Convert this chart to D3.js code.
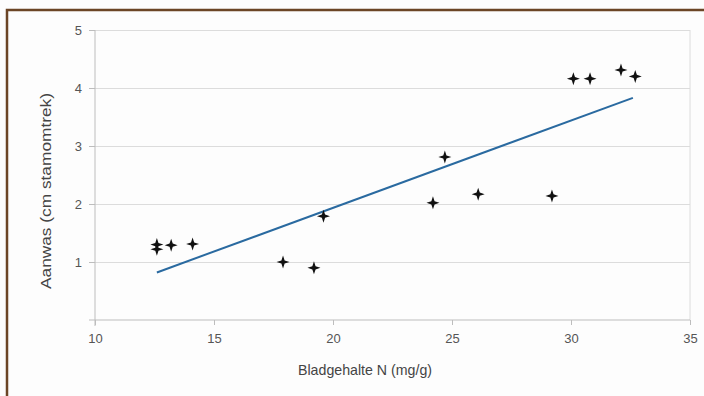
<!DOCTYPE html>
<html>
<head>
<meta charset="utf-8">
<script src="https://cdn.jsdelivr.net/npm/d3@7"></script>
<style>
  body { margin: 0; background: #fff; }
  svg { display: block; font-family: "Liberation Sans", Arial, sans-serif; }
</style>
</head>
<body>
<div class="chart-container"></div>
<script>
const totalWidth = 704;
const totalHeight = 396;

// gemeten waarden
const stikstof = [12.6, 12.6, 13.2, 14.1, 17.9, 19.2, 19.6, 24.2, 24.7, 26.1, 29.2, 30.1, 30.8, 32.1, 32.7];
const aanwas   = [1.3, 1.22, 1.29, 1.31, 1.0, 0.9, 1.79, 2.02, 2.81, 2.17, 2.14, 4.16, 4.16, 4.31, 4.2];

// trendlijn (begin- en eindpunt)
const trendX = [12.6, 32.6];
const trendY = [0.82, 3.83];

const xTicks = [10, 15, 20, 25, 30, 35];
const yTicks = [1, 2, 3, 4, 5];

const plot = {left: 95, right: 690, top: 30, bottom: 320};

const svg = d3.select('.chart-container')
    .append('svg')
    .attr('width', totalWidth)
    .attr('height', totalHeight);

// kader
svg.append('rect')
    .attr('x', 0).attr('y', 0)
    .attr('width', totalWidth).attr('height', totalHeight)
    .attr('fill', '#fdfdfd');
svg.append('path')
    .attr('d', `M7,${totalHeight} V10 H${totalWidth}`)
    .attr('fill', 'none')
    .attr('stroke', '#6b4526')
    .attr('stroke-width', 2.5);

const scaleX = d3.scaleLinear().domain([10, 35]).range([plot.left, plot.right]);
const scaleY = d3.scaleLinear().domain([0, 5]).range([plot.bottom, plot.top]);

// rasterlijnen
svg.append('g')
    .attr('class', 'grid')
    .attr('transform', `translate(${plot.left},0)`)
    .call(d3.axisLeft(scaleY).tickValues(yTicks).tickSize(-(plot.right - plot.left)).tickFormat(''))
    .call(g => g.select('.domain').remove())
    .selectAll('line').attr('stroke', '#dcdcdc');

svg.append('line')
    .attr('x1', plot.right).attr('x2', plot.right)
    .attr('y1', plot.top).attr('y2', plot.bottom)
    .attr('stroke', '#dcdcdc');

// assen
const yAxis = svg.append('g')
    .attr('transform', `translate(${plot.left},0)`)
    .call(d3.axisLeft(scaleY).tickValues(yTicks).tickFormat(d3.format('d'))
        .tickSize(6).tickSizeOuter(0).tickPadding(7));
const xAxis = svg.append('g')
    .attr('transform', `translate(0,${plot.bottom})`)
    .call(d3.axisBottom(scaleX).tickValues(xTicks).tickSize(5).tickSizeOuter(0).tickPadding(9));

[xAxis, yAxis].forEach(a => {
    a.select('.domain').attr('stroke', '#bdbdbd');
    a.selectAll('.tick line').attr('stroke', '#bdbdbd');
    a.selectAll('.tick text').attr('fill', '#555').attr('font-size', 13);
});
// y-as iets voorbij 0 laten beginnen zoals in het origineel
yAxis.select('.domain').attr('d', `M0,${plot.top}V${plot.bottom + 6}`);
xAxis.select('.domain').attr('d', `M${plot.left - 6},0H${plot.right}`);

// trendlijn
svg.append('line')
    .attr('x1', scaleX(trendX[0])).attr('y1', scaleY(trendY[0]))
    .attr('x2', scaleX(trendX[1])).attr('y2', scaleY(trendY[1]))
    .attr('stroke', '#2a6aa0')
    .attr('stroke-width', 2);

// sterretjes als markers
const r = 6.5, w = 1.6;
const star = `M0,${-r}L${w},${-w}L${r},0L${w},${w}L0,${r}L${-w},${w}L${-r},0L${-w},${-w}Z`;
svg.append('g')
    .selectAll('path')
    .data(stikstof.map((x, i) => ({x, y: aanwas[i]})))
    .enter()
    .append('path')
    .attr('d', star)
    .attr('transform', d => `translate(${scaleX(d.x)},${scaleY(d.y)})`)
    .attr('fill', '#111');

// astitels
svg.append('text')
    .attr('x', 365)
    .attr('y', 375)
    .attr('text-anchor', 'middle')
    .attr('font-size', 15)
    .attr('fill', '#444')
    .attr('textLength', 134)
    .attr('lengthAdjust', 'spacingAndGlyphs')
    .text('Bladgehalte N (mg/g)');

svg.append('text')
    .attr('transform', `translate(51,191) rotate(-90)`)
    .attr('text-anchor', 'middle')
    .attr('font-size', 15)
    .attr('fill', '#444')
    .attr('textLength', 196)
    .attr('lengthAdjust', 'spacingAndGlyphs')
    .text('Aanwas (cm stamomtrek)');
</script>
</body>
</html>
